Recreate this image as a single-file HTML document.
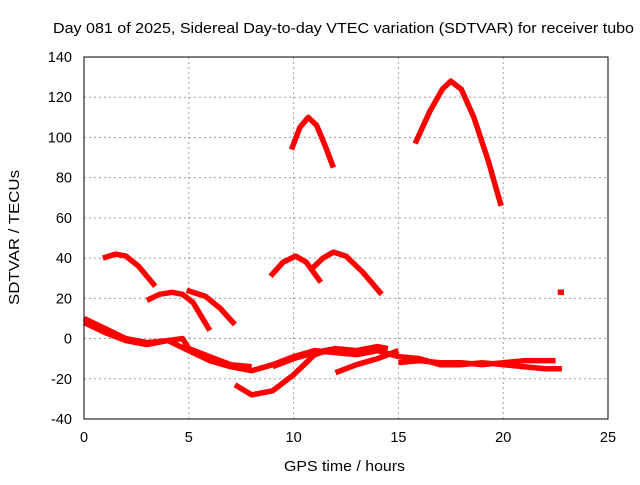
<!DOCTYPE html>
<html><head><meta charset="utf-8"><style>
body{margin:0;background:#fff;font-family:"Liberation Sans",sans-serif}
svg text{font-family:"Liberation Sans",sans-serif;font-size:14.5px;fill:#000}
</style></head><body>
<svg id="c" width="640" height="480"></svg>
<script>
const xTicks=[0,5,10,15,20,25];
const yTicks=[-40,-20,0,20,40,60,80,100,120,140];
const tracks=[
[[9.9,94],[10.3,105],[10.7,110],[11.1,106],[11.5,96],[11.9,85]],
[[15.8,97],[16.5,113],[17.1,124],[17.5,128],[18,124],[18.6,110],[19.3,88],[19.9,66]],
[[0.9,40],[1.5,42],[2,41],[2.6,36],[3.4,26]],
[[3,19],[3.6,22],[4.2,23],[4.7,22],[5.2,18],[5.6,11],[6,4]],
[[4.9,24],[5.8,21],[6.5,15],[7.2,7]],
[[8.9,31],[9.5,38],[10.1,41],[10.6,38],[11.3,28]],
[[10.9,35],[11.4,40],[11.9,43],[12.5,41],[13.3,33],[14.2,22]],
[[22.6,23],[22.9,23]],
[[0,10],[1,5],[2,0],[3,-2],[4,-1],[5,-6],[6,-11],[7,-14],[8,-16],[9,-13],[10,-9],[11,-6],[12,-7],[13,-8],[14,-6],[15,-9],[16,-10],[17,-13],[18,-13],[19,-12],[20,-13],[21,-14],[22,-15],[22.8,-15]],
[[0,8],[1,3],[2,-1],[3,-3],[4,-1],[4.7,0],[5,-5],[6,-9],[7,-13],[8,-14]],
[[7.2,-23],[8,-28],[9,-26],[10,-18],[11,-8],[11.6,-6]],
[[12,-17],[13,-13],[14,-10],[15,-6]],
[[15,-12],[16,-11],[17,-12],[18,-12],[19,-13],[20,-12],[21,-11],[22.5,-11]],
[[9,-14],[10,-10],[11,-7],[12,-5],[13,-6],[14,-4],[14.5,-5]]
];
const L=84,R=608,T=57,B=419;
const X=v=>L+(v-0)/25*(R-L);
const Y=v=>B-(v+40)/180*(B-T);
const svg=document.getElementById('c');
const NS='http://www.w3.org/2000/svg';
function mk(t,a,p){const e=document.createElementNS(NS,t);for(const k in a)e.setAttribute(k,a[k]);(p||svg).appendChild(e);return e;}
xTicks.forEach(v=>{
 if(v>0&&v<25){const g=mk('line',{x1:X(v),x2:X(v),y1:T,y2:B,stroke:'#a0a0a0','stroke-dasharray':'2,3'});
 
 }
 const t=mk('text',{x:X(v),y:B+23,'text-anchor':'middle'});t.textContent=v;
 
 
});
yTicks.forEach(v=>{
 if(v>-40&&v<140){const g=mk('line',{x1:L,x2:R,y1:Y(v),y2:Y(v),stroke:'#a0a0a0','stroke-dasharray':'2,3'});
 
 }
 const t=mk('text',{x:L-12,y:Y(v)+5,'text-anchor':'end'});t.textContent=v;
 
 
});
tracks.forEach(tr=>{
 const p=mk('polyline',{points:tr.map(d=>X(d[0])+','+Y(d[1])).join(' '),fill:'none',stroke:'#ff0000','stroke-width':5.5,'stroke-linejoin':'round'});
 
 
});
const f=mk('rect',{x:L,y:T,width:R-L,height:B-T,fill:'none',stroke:'#000'});


const tt=mk('text',{x:53,y:33,textLength:581,lengthAdjust:'spacingAndGlyphs'});tt.textContent='Day 081 of 2025, Sidereal Day-to-day VTEC variation (SDTVAR) for receiver tubo';


const xl=mk('text',{x:284,y:471,textLength:121,lengthAdjust:'spacingAndGlyphs'});xl.textContent='GPS time / hours';


const yl=mk('text',{x:0,y:0,textLength:135,lengthAdjust:'spacingAndGlyphs',transform:'translate(19 305) rotate(-90)'});yl.textContent='SDTVAR / TECUs';


</script>
</body></html>
